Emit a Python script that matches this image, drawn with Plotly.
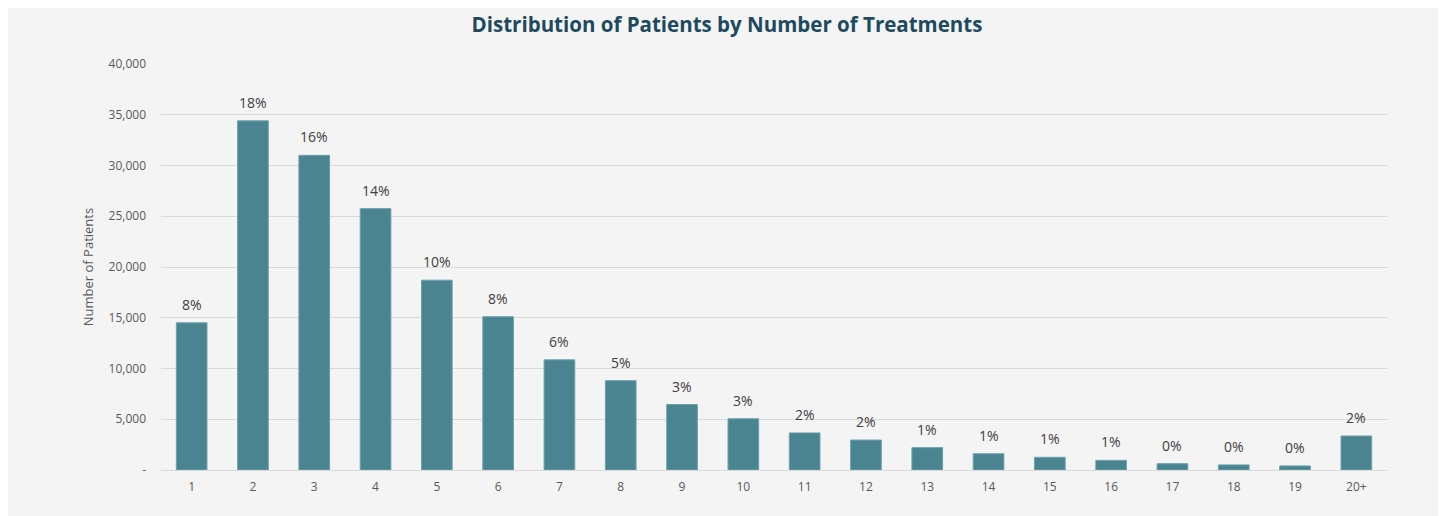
import plotly.graph_objects as go

categories = ["1", "2", "3", "4", "5", "6", "7", "8", "9", "10",
              "11", "12", "13", "14", "15", "16", "17", "18", "19", "20+"]
patients = [14500, 34400, 31000, 25750, 18700, 15100, 10850, 8800, 6450, 5050,
            3650, 2950, 2200, 1600, 1250, 950, 620, 500, 400, 3350]
pct_labels = ["8%", "18%", "16%", "14%", "10%", "8%", "6%", "5%", "3%", "3%",
              "2%", "2%", "1%", "1%", "1%", "1%", "0%", "0%", "0%", "2%"]
y_ticks = [0, 5000, 10000, 15000, 20000, 25000, 30000, 35000, 40000]
y_tick_text = ["-", "5,000", "10,000", "15,000", "20,000", "25,000", "30,000", "35,000", "40,000"]

font_family = "Open Sans, Noto Sans, sans-serif"

fig = go.Figure(go.Bar(
    x=categories, y=patients,
    marker=dict(color="#4a8491", line=dict(color="#6aa0ab", width=1)),
    width=0.5,
))

# category axis: annotation x given as category index
for i, (v, t) in enumerate(zip(patients, pct_labels)):
    fig.add_annotation(x=i, y=v, text=t, showarrow=False, yanchor="bottom", yshift=7,
                       font=dict(size=14, color="#404040", family=font_family))

fig.update_layout(
    width=1438, height=508,
    paper_bgcolor="#f4f4f4", plot_bgcolor="#f4f4f4",
    margin=dict(l=153, r=59, t=56, b=46),
    title=dict(text="<b>Distribution of Patients by Number of Treatments</b>",
               x=0.5, xanchor="center", y=1 - 17 / 508, yanchor="middle",
               font=dict(size=20.5, color="#1d4a5e", family=font_family)),
    font=dict(family=font_family),
    showlegend=False,
)
fig.update_xaxes(
    type="category",
    tickfont=dict(size=12, color="#595959"),
    showline=True, linecolor="#d9d9d9", linewidth=1,
    ticks="", showgrid=False, ticklabelstandoff=6,
)
fig.update_yaxes(
    range=[0, 40000], tickvals=y_ticks, ticktext=y_tick_text,
    tickfont=dict(size=12, color="#595959"),
    showgrid=True, gridcolor="#d9d9d9", gridwidth=1,
    zeroline=False, ticks="", ticklabelstandoff=14,
    title=dict(text="Number of Patients", font=dict(size=13, color="#595959"), standoff=12),
)

fig.write_html("out.html")
